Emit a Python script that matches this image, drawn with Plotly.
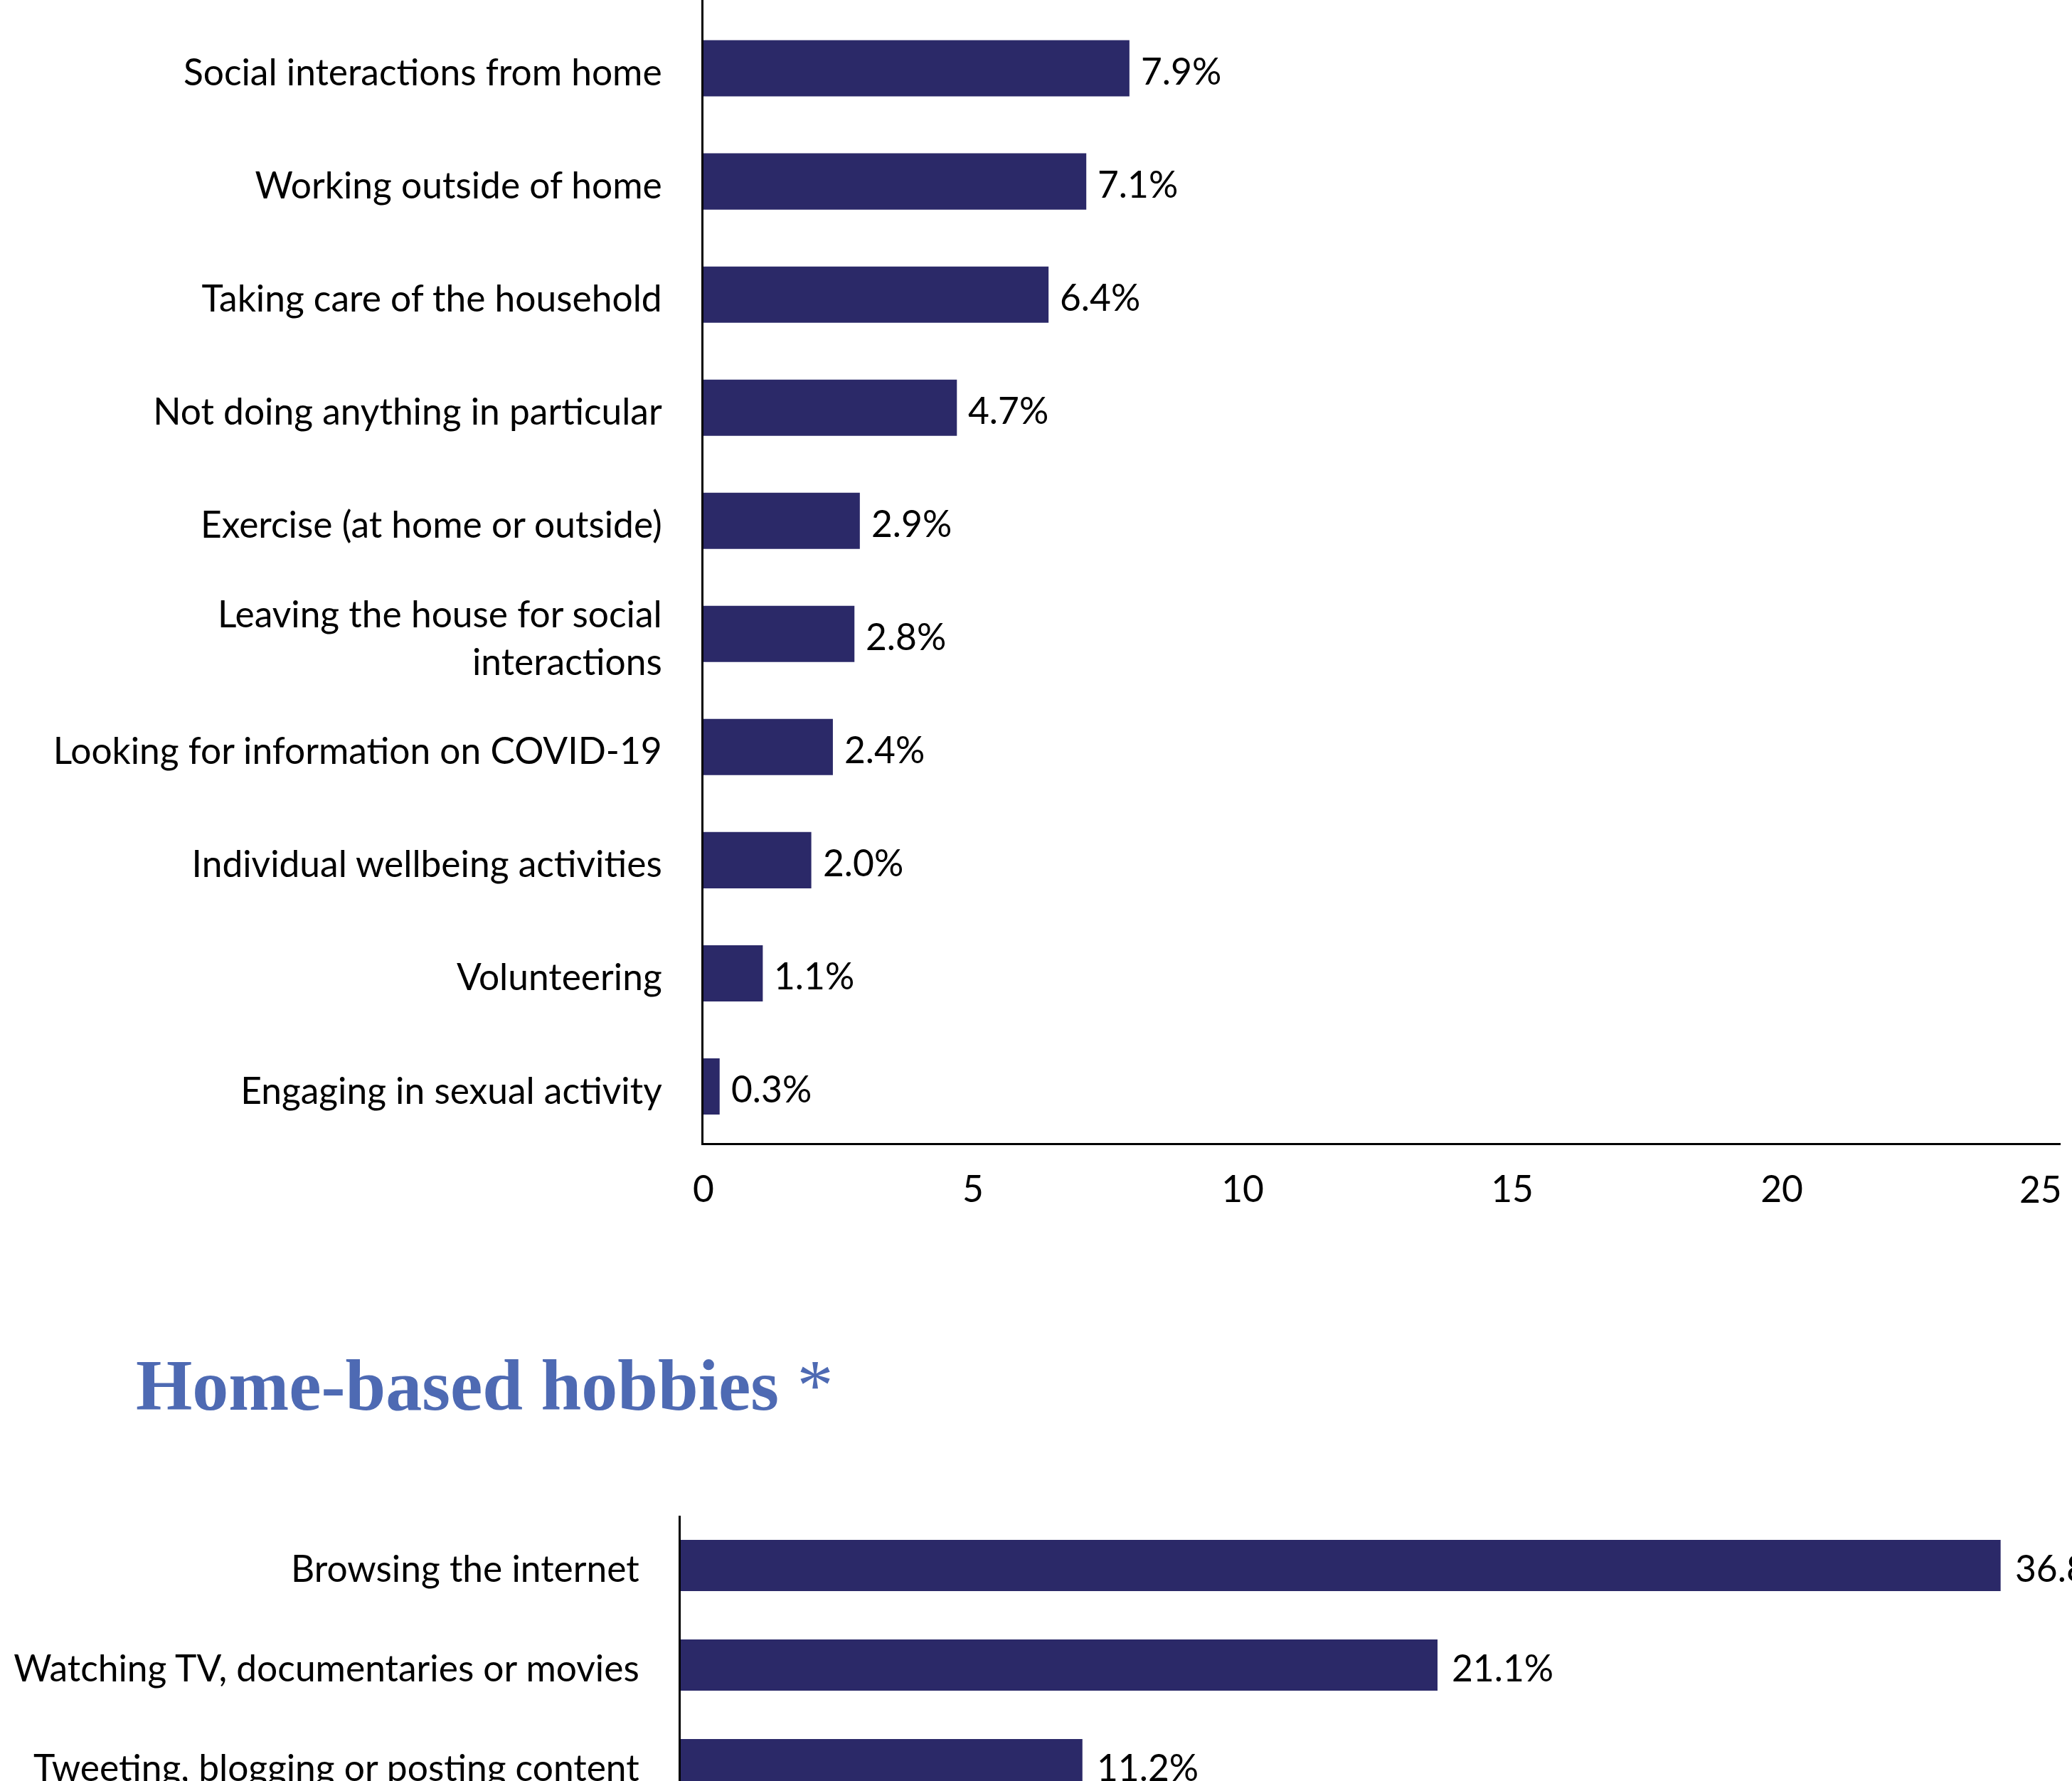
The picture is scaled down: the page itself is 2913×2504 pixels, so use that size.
import plotly.graph_objects as go

# Activities (share of respondents, %)
activities = [
    "Social interactions from home",
    "Working outside of home",
    "Taking care of the household",
    "Not doing anything in particular",
    "Exercise (at home or outside)",
    "Leaving the house for social<br>interactions",
    "Looking for information on COVID-19",
    "Individual wellbeing activities",
    "Volunteering",
    "Engaging in sexual activity",
]
activity_pct = [7.9, 7.1, 6.4, 4.7, 2.9, 2.8, 2.4, 2.0, 1.1, 0.3]
activity_ticks = [0, 5, 10, 15, 20, 25]

# Home-based hobbies (share of respondents, %)
hobbies = [
    "Browsing the internet",
    "Watching TV, documentaries or movies",
    "Tweeting, blogging or posting content",
]
hobby_pct = [36.8, 21.1, 11.2]

hobby_title = "<b>Home-based hobbies</b> *"

W, H = 2913, 2504
BAR = "#2b2968"
TITLE_BLUE = "#4e6ab3"
FONT = "Lato"
FS = 51.5


def px(x):
    return x / W


def py(y):
    return 1 - y / H


fig = go.Figure()

fig.add_trace(go.Bar(
    x=activity_pct, y=activities, orientation="h",
    marker=dict(color=BAR, line=dict(width=0)),
    width=0.497, xaxis="x", yaxis="y", hoverinfo="skip",
))
fig.add_trace(go.Bar(
    x=hobby_pct, y=hobbies, orientation="h",
    marker=dict(color=BAR, line=dict(width=0)),
    width=0.514, xaxis="x2", yaxis="y2", hoverinfo="skip",
))

annotations = []
for cat, v in zip(activities, activity_pct):
    annotations.append(dict(
        x=v, y=cat, xref="x", yref="y", text=f"{v:.1f}%",
        showarrow=False, xanchor="left", yanchor="middle",
        xshift=14, yshift=-3,
        font=dict(family=FONT, size=FS, color="black"),
    ))
for cat, v in zip(hobbies, hobby_pct):
    annotations.append(dict(
        x=v, y=cat, xref="x2", yref="y2", text=f"{v:.1f}%",
        showarrow=False, xanchor="left", yanchor="middle",
        xshift=18, yshift=-3,
        font=dict(family=FONT, size=FS, color="black"),
    ))
# last x tick label is nudged inward so it stays inside the page
last_tick = activity_ticks[-1]
annotations.append(dict(
    x=last_tick, y=py(1671), xref="x", yref="paper", text=str(last_tick),
    showarrow=False, xanchor="center", yanchor="middle", xshift=-15,
    font=dict(family=FONT, size=FS, color="black"),
))
annotations.append(dict(
    x=px(189), y=py(1948), xref="paper", yref="paper", text=hobby_title,
    showarrow=False, xanchor="left", yanchor="middle",
    font=dict(family="Liberation Serif", size=102, color=TITLE_BLUE),
))

axis_font = dict(family=FONT, size=FS, color="black")

fig.update_layout(
    width=W, height=H,
    margin=dict(l=0, r=0, t=0, b=0),
    paper_bgcolor="white", plot_bgcolor="white",
    showlegend=False,
    bargap=0.5,
    annotations=annotations,
    xaxis=dict(
        domain=[px(989), px(2897)], range=[0, 25.17],
        tickvals=activity_ticks[:-1], tickfont=axis_font,
        showgrid=False, zeroline=False,
        showline=True, linecolor="black", linewidth=3,
        ticks="outside", ticklen=0, ticklabelstandoff=18,
        ticklabeloverflow="allow", automargin=False,
        anchor="y", fixedrange=True,
    ),
    yaxis=dict(
        domain=[py(1607), 1], range=[9.5, -0.604],
        type="category", tickfont=axis_font,
        showgrid=False, zeroline=False,
        showline=True, linecolor="black", linewidth=3,
        ticks="outside", ticklen=0, ticklabelstandoff=45,
        ticklabelshift=-6,
        automargin=False, anchor="x", fixedrange=True,
    ),
    xaxis2=dict(
        domain=[px(957), 1], range=[0, 38.79],
        showticklabels=False, showgrid=False, zeroline=False,
        showline=False, automargin=False, anchor="y2", fixedrange=True,
    ),
    yaxis2=dict(
        domain=[0, py(2131)], range=[2.164, -0.5],
        type="category", tickfont=axis_font,
        showgrid=False, zeroline=False,
        showline=True, linecolor="black", linewidth=3,
        ticks="outside", ticklen=0, ticklabelstandoff=45,
        ticklabelshift=-5, ticklabeloverflow="allow",
        automargin=False, anchor="x2", fixedrange=True,
    ),
)

fig.write_html("out.html")
